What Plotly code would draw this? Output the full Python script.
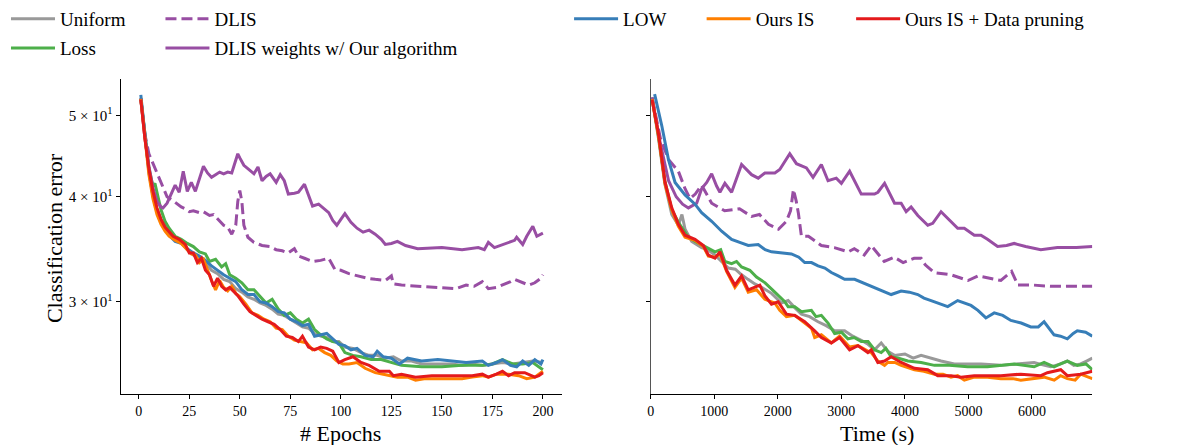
import plotly.graph_objects as go
import math

# ---------------- data: left panel (epochs) ----------------
unif_ep = [1, 3, 5, 7, 9, 11, 13, 15, 18, 21, 24, 27, 30, 33, 36, 39, 42, 45, 48, 51, 54, 57, 60, 63, 66, 69, 72, 75, 78, 81, 84, 87, 90, 93, 96, 99, 102, 106, 110, 114, 118, 122, 126, 130, 135, 140, 145, 150, 155, 160, 165, 170, 175, 180, 185, 190, 195, 200]
unif_ep_v = [52.3, 47.3, 43.0, 40.3, 38.6, 37.6, 37.0, 36.2, 35.7, 35.3, 34.6, 34.1, 33.8, 33.4, 32.7, 32.4, 31.9, 31.7, 31.1, 30.8, 30.4, 30.2, 29.9, 29.7, 29.4, 29.0, 28.9, 28.6, 28.3, 28.0, 27.9, 27.5, 27.3, 27.2, 26.9, 26.9, 26.5, 26.4, 26.1, 25.9, 25.9, 25.7, 25.8, 25.5, 25.5, 25.3, 25.3, 25.3, 25.3, 25.2, 25.3, 25.2, 25.3, 25.4, 25.3, 25.4, 25.5, 25.4]

loss_ep = [1, 3, 5, 7, 8, 9, 11, 13, 15, 18, 21, 24, 27, 30, 33, 35, 38, 41, 43, 45, 48, 51, 54, 57, 60, 63, 66, 69, 72, 75, 78, 81, 84, 87, 90, 93, 96, 99, 102, 106, 110, 115, 120, 125, 130, 140, 150, 160, 170, 175, 180, 185, 190, 195, 200]
loss_ep_v = [52.4, 47.5, 43.3, 41.2, 41.5, 40.5, 38.6, 37.4, 36.7, 35.9, 35.6, 35.2, 34.9, 34.4, 34.2, 33.5, 33.7, 33.0, 33.3, 32.3, 32.0, 31.6, 31.0, 31.0, 30.4, 29.9, 30.2, 29.4, 28.9, 29.1, 28.6, 28.3, 28.6, 27.8, 27.4, 27.1, 26.9, 26.8, 26.1, 25.9, 25.8, 25.6, 25.6, 25.4, 25.2, 25.1, 25.1, 25.2, 25.2, 25.3, 25.6, 25.3, 25.3, 25.4, 24.9]

dlis_ep = [1, 3, 5, 8, 11, 14, 18, 21, 23, 25, 27, 30, 32, 35, 37, 40, 42, 44, 46, 48, 49, 50, 51, 52, 54, 57, 61, 65, 68, 71, 74, 77, 79, 82, 86, 90, 94, 97, 100, 104, 108, 113, 117, 122, 125, 126, 130, 139, 148, 157, 162, 166, 170, 173, 177, 180, 184, 186, 190, 193, 196, 199, 200]
dlis_ep_v = [52.3, 47.5, 45.0, 43.3, 41.7, 40.0, 39.4, 38.9, 38.7, 38.4, 38.5, 38.3, 38.4, 38.0, 38.1, 37.4, 37.0, 36.8, 36.1, 37.0, 39.5, 40.7, 39.5, 37.0, 35.8, 35.3, 35.0, 34.9, 34.6, 34.5, 34.3, 34.7, 34.0, 33.8, 33.5, 33.6, 33.8, 32.8, 32.7, 32.4, 32.2, 32.0, 31.9, 31.8, 32.2, 31.5, 31.4, 31.3, 31.2, 31.1, 31.4, 31.3, 31.7, 31.1, 31.2, 31.4, 31.7, 31.9, 31.6, 31.4, 31.6, 32.0, 32.3]

dlisw_ep = [1, 3, 5, 7, 9, 11, 12, 14, 16, 18, 20, 22, 24, 26, 28, 30, 32, 34, 36, 38, 40, 42, 44, 46, 48, 49, 50, 52, 55, 57, 59, 61, 63, 65, 68, 70, 72, 74, 77, 79, 82, 84, 86, 89, 91, 94, 96, 98, 100, 102, 105, 108, 111, 114, 117, 120, 122, 125, 128, 132, 138, 145, 150, 160, 168, 171, 173, 176, 180, 183, 186, 187, 190, 192, 195, 197, 200]
dlisw_ep_v = [52.4, 47.0, 43.5, 41.0, 39.5, 38.9, 38.8, 39.3, 40.3, 41.3, 40.5, 42.9, 40.6, 41.6, 40.6, 42.0, 43.5, 42.7, 42.2, 42.5, 42.8, 42.6, 42.8, 42.7, 44.2, 45.0, 44.5, 43.6, 43.0, 42.6, 43.4, 41.8, 42.3, 42.6, 41.6, 42.5, 41.8, 40.3, 40.4, 40.5, 41.4, 40.2, 39.0, 39.2, 38.8, 38.3, 37.5, 37.0, 37.6, 38.2, 37.3, 36.7, 36.3, 36.5, 36.1, 35.6, 35.1, 35.2, 35.4, 35.0, 34.7, 34.8, 34.8, 34.6, 34.8, 34.6, 35.3, 34.8, 35.1, 35.3, 35.5, 35.8, 35.1, 35.9, 36.9, 35.9, 36.2]

low_ep = [1, 3, 5, 7, 9, 11, 13, 15, 18, 21, 24, 27, 30, 33, 36, 39, 42, 45, 48, 51, 54, 57, 60, 63, 66, 69, 72, 75, 78, 81, 84, 87, 90, 93, 96, 99, 102, 105, 108, 112, 116, 118, 121, 125, 129, 133, 140, 148, 155, 162, 170, 173, 177, 180, 184, 187, 190, 193, 196, 199, 200]
low_ep_v = [52.9, 47.2, 42.8, 40.1, 38.4, 37.3, 36.6, 36.0, 35.4, 35.2, 34.7, 34.3, 34.0, 33.6, 33.1, 32.7, 32.3, 32.0, 31.7, 31.0, 30.6, 30.6, 30.0, 29.9, 29.6, 29.2, 29.1, 28.6, 28.4, 28.1, 28.2, 27.3, 27.4, 27.5, 27.1, 26.7, 26.6, 26.3, 26.4, 25.9, 25.8, 26.2, 25.8, 25.7, 25.3, 25.7, 25.5, 25.6, 25.5, 25.4, 25.5, 25.2, 25.4, 25.6, 25.2, 25.1, 25.5, 25.2, 25.6, 25.3, 25.6]

ours_ep = [1, 3, 5, 7, 9, 11, 13, 15, 18, 21, 24, 26, 28, 30, 32, 34, 36, 38, 40, 42, 44, 46, 48, 50, 53, 56, 59, 62, 65, 68, 71, 74, 77, 80, 83, 86, 89, 92, 95, 98, 101, 104, 108, 112, 117, 121, 124, 128, 133, 137, 142, 148, 155, 160, 165, 170, 173, 177, 183, 188, 192, 196, 200]
ours_ep_v = [52.3, 46.8, 42.5, 39.8, 38.1, 37.1, 36.4, 35.9, 35.5, 35.2, 34.6, 34.2, 34.1, 33.4, 33.7, 32.7, 31.8, 31.0, 31.8, 31.2, 30.9, 31.3, 30.7, 30.4, 29.8, 29.1, 28.9, 28.6, 28.4, 27.9, 27.8, 27.3, 27.0, 26.9, 26.8, 26.3, 26.4, 26.1, 25.9, 25.5, 25.3, 25.3, 25.4, 25.0, 24.7, 24.6, 24.5, 24.4, 24.4, 24.2, 24.3, 24.3, 24.3, 24.3, 24.4, 24.5, 24.4, 24.6, 24.6, 24.5, 24.3, 24.4, 24.8]

prune_ep = [1, 3, 5, 7, 9, 11, 13, 15, 17, 20, 23, 25, 27, 29, 31, 33, 35, 37, 39, 41, 43, 45, 47, 49, 52, 55, 58, 61, 64, 67, 70, 73, 76, 79, 81, 84, 87, 90, 93, 96, 99, 102, 106, 110, 114, 119, 124, 126, 130, 137, 145, 155, 165, 170, 173, 177, 180, 183, 186, 191, 196, 198, 200]
prune_ep_v = [52.2, 47.0, 43.2, 40.6, 38.8, 37.6, 36.8, 36.3, 35.9, 35.6, 35.1, 34.3, 34.3, 33.4, 33.8, 32.7, 32.3, 31.3, 32.0, 31.3, 31.0, 31.2, 30.8, 30.5, 29.8, 29.2, 28.9, 28.6, 28.4, 28.2, 27.8, 27.3, 27.2, 26.9, 27.3, 26.5, 26.3, 26.5, 26.4, 26.2, 25.4, 25.6, 25.8, 25.4, 25.2, 24.8, 24.8, 24.5, 24.6, 24.4, 24.5, 24.5, 24.5, 24.6, 24.4, 24.6, 24.8, 24.5, 24.7, 24.7, 24.4, 24.5, 24.7]

# ---------------- data: right panel (time, s) ----------------
unif_t = [20, 120, 220, 330, 434, 490, 540, 644, 800, 900, 1010, 1120, 1220, 1330, 1429, 1530, 1638, 1750, 1900, 2057, 2162, 2270, 2371, 2500, 2633, 2760, 2894, 3051, 3180, 3313, 3420, 3522, 3627, 3730, 3836, 4000, 4130, 4255, 4400, 4569, 4778, 4988, 5200, 5511, 5800, 6034, 6200, 6296, 6450, 6557, 6660, 6767, 6860, 6950]
unif_t_v = [52.4, 47.0, 41.5, 38.1, 37.0, 38.1, 36.6, 35.4, 34.8, 34.6, 34.1, 33.5, 32.9, 32.8, 32.3, 31.9, 31.5, 31.2, 30.7, 29.9, 30.1, 29.5, 29.0, 28.8, 28.4, 28.1, 27.7, 27.7, 27.3, 27.0, 26.7, 26.3, 26.8, 26.2, 25.9, 26.0, 25.7, 25.9, 25.7, 25.5, 25.3, 25.3, 25.3, 25.2, 25.3, 25.4, 25.2, 25.1, 25.3, 25.5, 25.2, 25.3, 25.5, 25.7]

loss_t = [20, 120, 220, 330, 434, 592, 700, 800, 900, 1010, 1100, 1166, 1272, 1350, 1429, 1559, 1664, 1800, 1952, 2109, 2162, 2266, 2371, 2528, 2600, 2685, 2790, 2894, 3000, 3103, 3200, 3313, 3420, 3522, 3627, 3700, 3784, 3900, 4046, 4255, 4465, 4700, 4988, 5300, 5720, 6034, 6191, 6348, 6450, 6557, 6714, 6850, 6950]
loss_t_v = [52.5, 47.3, 41.8, 38.6, 37.3, 35.8, 35.4, 35.1, 34.8, 34.4, 34.6, 33.5, 33.3, 33.5, 33.0, 32.7, 32.1, 31.6, 30.8, 30.0, 29.6, 29.6, 29.2, 29.3, 28.8, 28.9, 28.3, 27.5, 27.6, 27.1, 27.2, 26.9, 26.9, 26.3, 26.1, 26.4, 25.8, 25.7, 25.5, 25.4, 25.2, 25.2, 25.1, 25.1, 25.3, 25.1, 25.4, 25.1, 25.3, 25.5, 25.2, 25.3, 24.9]

dlis_t = [20, 150, 278, 434, 539, 617, 700, 800, 958, 1162, 1397, 1586, 1711, 1852, 2010, 2135, 2200, 2245, 2290, 2324, 2371, 2481, 2685, 2889, 3109, 3203, 3360, 3470, 3674, 3831, 3972, 4145, 4255, 4320, 4459, 4726, 4993, 5150, 5511, 5621, 5680, 5778, 6029, 6296, 6600, 6950]
dlis_t_v = [52.5, 47.0, 44.3, 42.9, 40.9, 39.8, 40.3, 41.3, 39.3, 38.5, 38.7, 37.9, 38.1, 37.1, 36.6, 37.4, 38.5, 40.8, 39.5, 38.2, 35.9, 35.9, 35.0, 34.8, 34.4, 34.7, 34.1, 35.0, 33.5, 33.9, 33.4, 33.8, 33.8, 33.2, 32.5, 32.3, 31.8, 32.2, 31.8, 32.3, 32.6, 31.4, 31.4, 31.3, 31.3, 31.3]

dlisw_t = [20, 150, 280, 400, 500, 592, 722, 800, 880, 958, 1036, 1088, 1166, 1272, 1429, 1586, 1691, 1796, 1953, 2030, 2188, 2293, 2450, 2554, 2685, 2790, 2920, 3000, 3130, 3313, 3522, 3575, 3680, 3837, 3941, 4020, 4098, 4203, 4360, 4438, 4569, 4700, 4831, 4935, 5092, 5197, 5300, 5459, 5600, 5720, 5900, 6139, 6400, 6700, 6950]
dlisw_t_v = [52.5, 46.3, 41.8, 40.0, 39.2, 38.8, 39.3, 40.9, 41.6, 42.6, 41.2, 40.5, 41.5, 40.5, 43.7, 42.5, 42.1, 42.7, 42.7, 43.1, 45.0, 43.8, 43.3, 42.2, 43.7, 41.8, 42.1, 41.5, 42.9, 40.3, 40.3, 40.5, 41.5, 39.3, 39.3, 38.4, 38.9, 38.0, 37.0, 37.2, 38.4, 37.5, 36.7, 36.7, 36.0, 36.0, 35.6, 34.9, 35.0, 35.2, 34.9, 34.6, 34.8, 34.8, 34.9]

low_t = [60, 173, 278, 382, 539, 696, 800, 958, 1115, 1272, 1400, 1534, 1691, 1800, 1900, 2050, 2214, 2330, 2423, 2530, 2633, 2740, 2842, 2950, 3051, 3208, 3340, 3470, 3522, 3627, 3784, 3941, 4070, 4203, 4300, 4412, 4530, 4674, 4831, 4950, 5040, 5150, 5275, 5406, 5540, 5668, 5830, 5982, 6100, 6191, 6270, 6348, 6450, 6557, 6650, 6714, 6845, 6950]
low_t_v = [53.0, 48.6, 44.3, 41.6, 40.2, 39.2, 38.3, 37.4, 36.4, 35.6, 35.3, 35.0, 35.1, 34.6, 34.4, 34.3, 34.2, 33.9, 33.4, 33.4, 33.1, 32.9, 32.5, 32.2, 31.9, 31.9, 31.6, 31.3, 31.2, 31.0, 30.6, 30.9, 30.8, 30.6, 30.3, 30.1, 29.9, 29.6, 30.1, 29.9, 29.7, 29.3, 28.7, 29.1, 28.9, 28.5, 28.3, 28.0, 28.0, 28.4, 27.9, 27.4, 27.3, 27.1, 27.5, 27.7, 27.6, 27.3]

ours_t = [20, 121, 225, 330, 434, 539, 696, 827, 906, 1010, 1088, 1193, 1324, 1429, 1534, 1664, 1795, 1952, 2030, 2135, 2266, 2423, 2530, 2580, 2685, 2842, 2972, 3129, 3260, 3417, 3470, 3574, 3680, 3731, 3841, 3941, 4150, 4300, 4465, 4600, 4726, 4830, 4936, 5092, 5300, 5511, 5700, 5825, 6000, 6191, 6350, 6450, 6557, 6680, 6767, 6880, 6950]
ours_t_v = [52.3, 47.3, 41.4, 38.6, 36.9, 35.8, 35.5, 34.9, 34.0, 33.9, 34.2, 32.6, 31.2, 32.0, 30.8, 31.0, 30.2, 29.9, 29.3, 28.8, 28.9, 28.3, 27.9, 27.2, 27.4, 26.8, 27.3, 26.5, 26.6, 26.2, 26.1, 25.5, 25.2, 25.4, 25.4, 25.2, 24.9, 24.8, 24.6, 24.6, 24.4, 24.5, 24.2, 24.4, 24.4, 24.3, 24.3, 24.2, 24.3, 24.4, 24.2, 24.5, 24.3, 24.2, 24.6, 24.4, 24.3]

prune_t = [20, 121, 225, 330, 434, 539, 696, 827, 906, 1010, 1088, 1193, 1324, 1429, 1534, 1664, 1716, 1795, 1900, 2005, 2135, 2266, 2423, 2580, 2685, 2842, 2972, 3129, 3260, 3417, 3470, 3574, 3679, 3784, 3941, 4150, 4360, 4517, 4726, 4883, 5092, 5300, 5511, 5825, 6139, 6243, 6453, 6557, 6767, 6950]
prune_t_v = [52.2, 47.5, 41.6, 38.8, 37.1, 36.0, 35.6, 35.0, 34.1, 33.8, 34.4, 32.7, 31.4, 32.2, 31.0, 31.3, 31.4, 30.5, 29.8, 30.0, 29.0, 28.9, 28.4, 27.7, 27.2, 26.8, 27.2, 26.3, 26.6, 26.1, 26.3, 25.4, 25.5, 25.8, 25.4, 25.0, 24.9, 24.5, 24.5, 24.4, 24.5, 24.5, 24.5, 24.6, 24.5, 24.7, 24.9, 24.5, 24.6, 24.8]

# ---------------- labels / ticks ----------------
names = ["Uniform", "Loss", "DLIS", "DLIS weights w/ Our algorithm", "LOW", "Ours IS", "Ours IS + Data pruning"]
colors = ["#999999", "#4daf4a", "#984ea3", "#984ea3", "#377eb8", "#ff7f00", "#e41a1c"]
dashes = ["solid", "solid", "11px,5px", "solid", "solid", "solid", "solid"]
ytick_vals = [30, 40, 50]
ytick_text = ["3 × 10<sup>1</sup>", "4 × 10<sup>1</sup>", "5 × 10<sup>1</sup>"]
xtick_epochs = [0, 25, 50, 75, 100, 125, 150, 175, 200]
xtick_time = [0, 1000, 2000, 3000, 4000, 5000, 6000]

left_series = [(unif_ep, unif_ep_v), (loss_ep, loss_ep_v), (dlis_ep, dlis_ep_v), (dlisw_ep, dlisw_ep_v),
               (low_ep, low_ep_v), (ours_ep, ours_ep_v), (prune_ep, prune_ep_v)]
right_series = [(unif_t, unif_t_v), (loss_t, loss_t_v), (dlis_t, dlis_t_v), (dlisw_t, dlisw_t_v),
                (low_t, low_t_v), (ours_t, ours_t_v), (prune_t, prune_t_v)]

W, H = 1180, 445
FONT = "Liberation Serif, Times New Roman, serif"

fig = go.Figure()
legend_ids = ["legend", "legend2", "legend3", "legend4", "legend5", "legend6", "legend7"]
for i, (xs, ys) in enumerate(left_series):
    fig.add_trace(go.Scatter(x=xs, y=ys, mode="lines", name=names[i],
                             line=dict(color=colors[i], width=3, dash=dashes[i]),
                             xaxis="x", yaxis="y", legend=legend_ids[i], showlegend=True))
for i, (xs, ys) in enumerate(right_series):
    fig.add_trace(go.Scatter(x=xs, y=ys, mode="lines", name=names[i],
                             line=dict(color=colors[i], width=3, dash=dashes[i]),
                             xaxis="x2", yaxis="y2", showlegend=False))

# pixel helpers for layout
def px_x(p):
    return p / W
def px_y(p):
    return 1 - p / H

# legend positions (line start x, row centre y) in pixels
leg_pos = [(7, 8), (7, 38), (162, 8), (162, 38), (572, 8), (705, 8), (855, 8)]
legend_layout = {}
for lid, (lx, ly) in zip(legend_ids, leg_pos):
    legend_layout[lid] = dict(x=px_x(lx - 5), y=px_y(ly), xanchor="left", yanchor="middle",
                              bgcolor="rgba(0,0,0,0)", borderwidth=0, itemwidth=44,
                              font=dict(family=FONT, size=19, color="black"))

axis_common = dict(showline=True, linecolor="black", linewidth=1.2, ticks="outside", ticklen=4,
                   tickwidth=1.2, tickcolor="black", showgrid=False, zeroline=False,
                   tickfont=dict(family=FONT, size=14, color="black"), mirror=False)

ylo, yhi = math.log10(23.28), math.log10(55.2)

fig.update_layout(
    width=W, height=H,
    margin=dict(l=0, r=0, t=0, b=0),
    paper_bgcolor="white", plot_bgcolor="white",
    font=dict(family=FONT, color="black"),
    xaxis=dict(domain=[px_x(117), px_x(560)], range=[-9, 209.5], tickvals=xtick_epochs,
               anchor="y", **axis_common),
    xaxis2=dict(domain=[px_x(649), px_x(1092)], range=[0, 6950], tickvals=xtick_time,
                anchor="y2", **axis_common),
    yaxis=dict(domain=[px_y(393), px_y(70)], type="log", range=[ylo, yhi],
               tickvals=ytick_vals, ticktext=ytick_text, anchor="x",
               **{**axis_common, "tickfont": dict(family=FONT, size=15, color="black")}),
    yaxis2=dict(domain=[px_y(393), px_y(70)], type="log", range=[ylo, yhi],
                tickvals=ytick_vals, showticklabels=False, anchor="x2", matches="y",
                **{**axis_common, "linecolor": "#555555"}),
    **legend_layout,
    annotations=[
        dict(text="Classification error", x=px_x(50), y=px_y(233), xref="paper", yref="paper",
             showarrow=False, textangle=-90, font=dict(family=FONT, size=22, color="black"),
             xanchor="center", yanchor="middle"),
        dict(text="# Epochs", x=px_x(338), y=px_y(433), xref="paper", yref="paper",
             showarrow=False, font=dict(family=FONT, size=22, color="black"),
             xanchor="center", yanchor="middle"),
        dict(text="Time (s)", x=px_x(876), y=px_y(433), xref="paper", yref="paper",
             showarrow=False, font=dict(family=FONT, size=22, color="black"),
             xanchor="center", yanchor="middle"),
    ],
)

fig.write_html("out.html")
